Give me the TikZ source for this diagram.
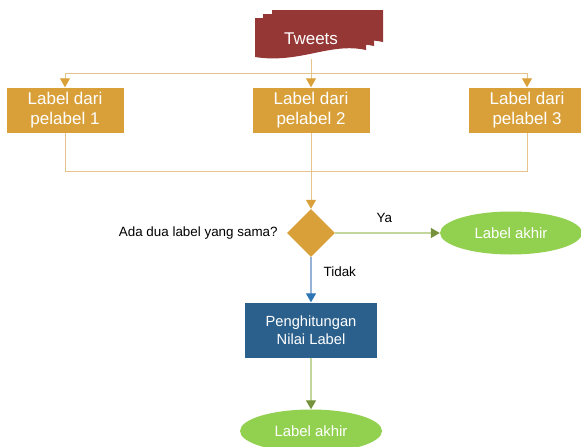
\documentclass[tikz,border=0pt]{standalone}
\usepackage{fontspec}
\setmainfont{Liberation Sans}
\usetikzlibrary{shapes,positioning,arrows.meta}
\definecolor{tweetred}{HTML}{953735}
\definecolor{labelgold}{HTML}{D9A03A}
\definecolor{tanline}{HTML}{E6C38C}
\definecolor{countblue}{HTML}{2C608C}
\definecolor{blueline}{HTML}{95B3D7}
\definecolor{bluetip}{HTML}{2E75B6}
\definecolor{leafgreen}{HTML}{92D050}
\definecolor{greenline}{HTML}{C3D69B}
\definecolor{greentip}{HTML}{76923C}

\begin{document}
\begin{tikzpicture}[x=1pt,y=-1pt,
    tweettext/.style={
        text=white,
        minimum width=111pt,
        minimum height=40pt,
        font=\fontsize{17}{20}\selectfont
        },
    labeler/.style={
        fill=labelgold,
        text=white,
        align=center,
        minimum width=117pt,
        minimum height=45pt,
        font=\fontsize{17}{19.5}\selectfont
        },
    decision/.style={
        diamond,
        fill=labelgold,
        minimum width=48pt,
        minimum height=48pt,
        inner sep=0pt
        },
    question/.style={
        inner sep=0pt,
        font=\fontsize{13.4}{16}\selectfont
        },
    process/.style={
        fill=countblue,
        text=white,
        align=center,
        minimum width=132pt,
        minimum height=55pt,
        font=\fontsize{14.7}{17.5}\selectfont
        },
    result/.style={
        ellipse,
        fill=leafgreen,
        text=white,
        minimum width=142pt,
        minimum height=43pt,
        font=\fontsize{14.9}{18}\selectfont
        },
    feed/.style={draw=tanline, line width=1pt},
    feedarrow/.style={feed, -{Triangle[width=10pt,length=9pt,color=labelgold]}},
    yesarrow/.style={draw=greenline, line width=1.3pt, -{Triangle[width=10pt,length=9pt,color=greentip]}},
    noarrow/.style={draw=blueline, line width=1.3pt, -{Triangle[width=10pt,length=9pt,color=bluetip]}},
  ]
  \useasboundingbox (0,0) rectangle (581,447);

  % Tweets (stacked documents)
  \foreach \dx/\dy in {17/-8, 8/-4, 0/0}{
      \fill[tweetred, shift={(\dx,\dy)}] (255,18) -- (366,18) -- (366,50)
          .. controls (330,42) and (300,64) .. (255,57) -- cycle;
    }
  \node[tweettext] (tweets) at (311,39) {Tweets};

  % Labelers
  \node[labeler] (lbl1) at (65,110) {Label dari\\pelabel 1};
  \node[labeler] (lbl2) at (311,110) {Label dari\\pelabel 2};
  \node[labeler] (lbl3) at (527,110) {Label dari\\pelabel 3};
  \coordinate (split) at (311,73);
  \coordinate (merge) at (311,171);

  % Decision
  \node[decision] (check) at (311,233) {};
  \node[question, left=9pt of check] (ask) {Ada dua label yang sama?};
  \node[result] (final1) at (511,233) {Label akhir};
  \node[process] (count) at (311,330) {Penghitungan\\Nilai Label};
  \node[result] (final2) at (311,431) {Label akhir};

  % Connectors
  \draw[feed] (tweets.south) -- (split);
  \draw[feedarrow] (split) -| (lbl1.north);
  \draw[feedarrow] (split) -- (lbl2.north);
  \draw[feedarrow] (split) -| (lbl3.north);
  \draw[feed] (lbl1.south) |- (merge);
  \draw[feed] (lbl3.south) |- (merge);
  \draw[feed] (lbl2.south) -- (merge);
  \draw[feedarrow] (merge) -- (check.north);
  \draw[yesarrow] (check.east) -- node[question, above=10pt, pos=0.47] {Ya} (final1.west);
  \draw[noarrow] (check.south) -- node[question, right=12pt, pos=0.33] {Tidak} (count.north);
  \draw[yesarrow] (count.south) -- (final2.north);
\end{tikzpicture}
\end{document}
